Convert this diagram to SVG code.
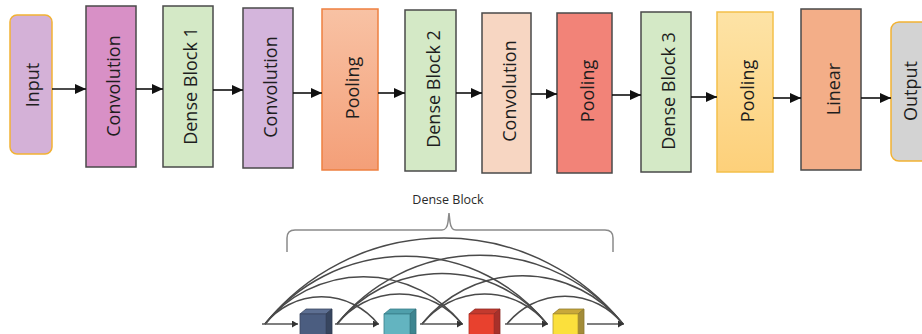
<svg xmlns="http://www.w3.org/2000/svg" width="922" height="334" viewBox="0 0 922 334">
<style>
  .box{stroke:#4a4a4a;stroke-width:1.5}
  .lbl{font-family:"Open Sans","Liberation Sans",sans-serif;font-size:18px;font-weight:500;fill:#1e1e1e;text-anchor:middle;dominant-baseline:central}
  .conn{stroke:#111;stroke-width:1.6;fill:none}
  .arc{stroke:#4a4a4a;stroke-width:1.5;fill:none}
  .base{stroke:#555;stroke-width:1.5;fill:none}
  .brace{stroke:#8a8a8a;stroke-width:1.5;fill:none}
  .small{font-family:"Open Sans","Liberation Sans",sans-serif;font-size:12.5px;font-weight:500;fill:#2a2a2a;text-anchor:middle}
</style>
<defs>
  <marker id="ah" markerWidth="12" markerHeight="10" refX="11" refY="5" orient="auto" markerUnits="userSpaceOnUse">
    <path d="M0,0 L11,5 L0,10 Z" fill="#111"/>
  </marker>
  <marker id="sh" markerWidth="7" markerHeight="7" refX="6" refY="3.5" orient="auto" markerUnits="userSpaceOnUse">
    <path d="M0,0 L6,3.5 L0,7 Z" fill="#333"/>
  </marker>
  <linearGradient id="gPool1" x1="0" y1="0" x2="0" y2="1">
    <stop offset="0" stop-color="#f8c2a4"/>
    <stop offset="1" stop-color="#f49f78"/>
  </linearGradient>
  <linearGradient id="gPool3" x1="0" y1="0" x2="0" y2="1">
    <stop offset="0" stop-color="#fde3a6"/>
    <stop offset="1" stop-color="#fdd07a"/>
  </linearGradient>
</defs>

<g id="input">
  <rect x="10" y="15" width="42" height="139" rx="7" fill="#d4b1d7" stroke="#f2b233" stroke-width="1.5"/>
  <text class="lbl" transform="translate(32,85) rotate(-90)">Input</text>
</g>
<g id="conv1">
  <rect class="box" x="86" y="6" width="50" height="161" fill="#d890c6"/>
  <text class="lbl" transform="translate(113,86) rotate(-90)">Convolution</text>
</g>
<g id="dense1">
  <rect class="box" x="163" y="6" width="50" height="161" fill="#d4e9c6"/>
  <text class="lbl" transform="translate(190,86) rotate(-90)">Dense Block 1</text>
</g>
<g id="conv2">
  <rect class="box" x="243" y="8" width="50" height="160" fill="#d4b5dc"/>
  <text class="lbl" transform="translate(270,87) rotate(-90)">Convolution</text>
</g>
<g id="pool1">
  <rect x="322" y="9" width="56" height="161" fill="url(#gPool1)" stroke="#ee8040" stroke-width="1.5"/>
  <text class="lbl" transform="translate(352,88) rotate(-90)">Pooling</text>
</g>
<g id="dense2">
  <rect class="box" x="405" y="10" width="51" height="161" fill="#d4e9c6"/>
  <text class="lbl" transform="translate(433,89) rotate(-90)">Dense Block 2</text>
</g>
<g id="conv3">
  <rect class="box" x="482" y="13" width="49" height="160" fill="#f7d6c2"/>
  <text class="lbl" transform="translate(509,91) rotate(-90)">Convolution</text>
</g>
<g id="pool2">
  <rect class="box" x="557" y="13" width="55" height="160" fill="#f28378"/>
  <text class="lbl" transform="translate(587,91) rotate(-90)">Pooling</text>
</g>
<g id="dense3">
  <rect class="box" x="641" y="12" width="50" height="160" fill="#d4e9c6"/>
  <text class="lbl" transform="translate(668,91) rotate(-90)">Dense Block 3</text>
</g>
<g id="pool3">
  <rect x="717" y="12" width="56" height="160" fill="url(#gPool3)" stroke="#f3c04a" stroke-width="1.5"/>
  <text class="lbl" transform="translate(747,91) rotate(-90)">Pooling</text>
</g>
<g id="linear">
  <rect class="box" x="801" y="9" width="60" height="161" fill="#f3ae88"/>
  <text class="lbl" transform="translate(833,89) rotate(-90)">Linear</text>
</g>
<g id="output">
  <rect x="891" y="22" width="44" height="139" rx="8" fill="#d3d3d3" stroke="#f2b233" stroke-width="1.5"/>
  <text class="lbl" transform="translate(910,91) rotate(-90)">Output</text>
</g>

<g id="connectors">
  <line class="conn" x1="52" y1="89" x2="86" y2="89" marker-end="url(#ah)"/>
  <line class="conn" x1="136" y1="89" x2="163" y2="89" marker-end="url(#ah)"/>
  <line class="conn" x1="213" y1="90" x2="243" y2="90" marker-end="url(#ah)"/>
  <line class="conn" x1="293" y1="93" x2="322" y2="93" marker-end="url(#ah)"/>
  <line class="conn" x1="378" y1="93" x2="405" y2="93" marker-end="url(#ah)"/>
  <line class="conn" x1="456" y1="93" x2="482" y2="93" marker-end="url(#ah)"/>
  <line class="conn" x1="531" y1="94" x2="557" y2="94" marker-end="url(#ah)"/>
  <line class="conn" x1="612" y1="95" x2="641" y2="95" marker-end="url(#ah)"/>
  <line class="conn" x1="691" y1="97" x2="717" y2="97" marker-end="url(#ah)"/>
  <line class="conn" x1="773" y1="98" x2="801" y2="98" marker-end="url(#ah)"/>
  <line class="conn" x1="861" y1="98" x2="891" y2="98" marker-end="url(#ah)"/>
</g>

<g id="dense-block-detail">
  <text class="small" x="448" y="204">Dense Block</text>
  <path class="brace" d="M287,252 L287,238 Q287,230 295,230 L442,230 Q447,230 448,222 L449,213 L450,222 Q451,230 456,230 L605,230 Q613,230 613,238 L613,252"/>

  <g id="arcs">
    <path class="arc" d="M265,324 A72.4,72.4 0 0 1 378,324"/>
    <path class="arc" d="M265,324 A126.2,126.2 0 0 1 462,324"/>
    <path class="arc" d="M265,324 A180.7,180.7 0 0 1 547,324"/>
    <path class="arc" d="M265,324 A229.4,229.4 0 0 1 623,324"/>
    <path class="arc" d="M337,324 A80.1,80.1 0 0 1 462,324"/>
    <path class="arc" d="M337,324 A134.6,134.6 0 0 1 547,324"/>
    <path class="arc" d="M337,324 A183.3,183.3 0 0 1 623,324"/>
    <path class="arc" d="M422,324 A80.1,80.1 0 0 1 547,324"/>
    <path class="arc" d="M422,324 A128.8,128.8 0 0 1 623,324"/>
    <path class="arc" d="M507,324 A74.3,74.3 0 0 1 623,324"/>
  </g>
  <g id="base-lines">
    <line class="base" x1="262" y1="324" x2="298" y2="324" marker-end="url(#sh)"/>
    <line class="base" x1="335" y1="324" x2="379" y2="324" marker-end="url(#sh)"/>
    <line class="base" x1="420" y1="324" x2="463" y2="324" marker-end="url(#sh)"/>
    <line class="base" x1="505" y1="324" x2="548" y2="324" marker-end="url(#sh)"/>
    <line class="base" x1="587" y1="324" x2="624" y2="324" marker-end="url(#sh)"/>
  </g>

  <g id="cube1">
    <polygon points="300,314 306,309 332,309 326,314" fill="#5d6f92" stroke="#3a4760" stroke-width="0.8"/>
    <polygon points="326,314 332,309 332,334 326,334" fill="#37455f" stroke="#2e3a50" stroke-width="0.8"/>
    <rect x="300" y="314" width="26" height="22" fill="#4b5d80" stroke="#3a4760" stroke-width="0.8"/>
  </g>
  <g id="cube2">
    <polygon points="384,314 390,309 416,309 410,314" fill="#4f9fab" stroke="#3b7f8a" stroke-width="0.8"/>
    <polygon points="410,314 416,309 416,334 410,334" fill="#3e8590" stroke="#356f78" stroke-width="0.8"/>
    <rect x="384" y="314" width="26" height="22" fill="#63b4c0" stroke="#3b7f8a" stroke-width="0.8"/>
  </g>
  <g id="cube3">
    <polygon points="469,314 475,309 500,309 494,314" fill="#c33a2e" stroke="#8e2a24" stroke-width="0.8"/>
    <polygon points="494,314 500,309 500,334 494,334" fill="#a8302a" stroke="#8e2a24" stroke-width="0.8"/>
    <rect x="469" y="314" width="25" height="22" fill="#e8412e" stroke="#b0342a" stroke-width="0.8"/>
  </g>
  <g id="cube4">
    <polygon points="553,314 559,309 584,309 578,314" fill="#c9a83a" stroke="#8e7a2e" stroke-width="0.8"/>
    <polygon points="578,314 584,309 584,334 578,334" fill="#a38c38" stroke="#8e7a2e" stroke-width="0.8"/>
    <rect x="553" y="314" width="25" height="22" fill="#fbe03c" stroke="#b89e30" stroke-width="0.8"/>
  </g>
</g>
</svg>
